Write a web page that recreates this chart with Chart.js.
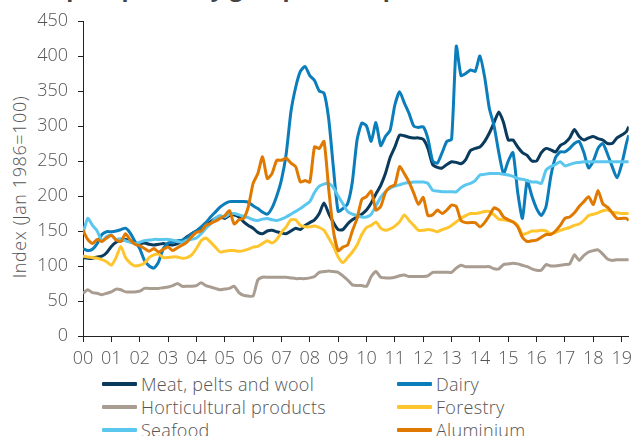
<!DOCTYPE html>
<html>
<head>
<meta charset="utf-8">
<script src="https://cdn.jsdelivr.net/npm/chart.js@4.4.0/dist/chart.umd.min.js"></script>
<style>
  body { margin: 0; width: 638px; height: 436px; overflow: hidden; background: #fff; position: relative; font-family: "Open Sans", Lato, sans-serif; font-weight: 300; color: #555; }
  #title { position: absolute; left: 40px; top: -29px; font-size: 23px; font-weight: bold; color: #444; white-space: nowrap; }
  #wrap { position: absolute; left: 0; top: 0; width: 638px; height: 372px; }
  #ytitle { position: absolute; left: 19px; top: 187px; transform: translate(-50%, -50%) rotate(-90deg); font-size: 18px; letter-spacing: 0.6px; white-space: nowrap; color: #555; }
  .item { position: absolute; height: 22px; display: flex; align-items: center; font-size: 18px; letter-spacing: 0.3px; color: #555; white-space: nowrap; }
  .swatch { display: inline-block; width: 35px; height: 4px; margin-right: 4px; border-radius: 1px; }
</style>
</head>
<body>
<div id="title">Export prices by group (world prices)</div>
<div id="ytitle">Index (Jan 1986=100)</div>
<div id="wrap"><canvas id="myChart" width="638" height="372"></canvas></div>
<div id="legend"></div>
<script>
// every second month from Jan 2000, last point Apr 2019
const dates = [];
for (let y = 2000; y < 2019; y++) {
  for (let m = 0; m < 12; m += 2) dates.push(y + m / 12);
}
dates.push(2019, 2019 + 2 / 12, 2019.25);

const yearTicks = ["00", "01", "02", "03", "04", "05", "06", "07", "08", "09",
  "10", "11", "12", "13", "14", "15", "16", "17", "18", "19"];

const meat = [
  112, 111, 111, 113, 114, 119,
  128, 134, 136, 138, 136, 133,
  132, 133, 131, 130, 131, 132,
  131, 130, 132, 136, 142, 146,
  150, 154, 158, 163, 168, 170,
  168, 172, 173, 170, 163, 158,
  154, 148, 146, 150, 151, 149,
  147, 146, 150, 154, 152, 158,
  162, 166, 175, 190, 175, 162,
  152, 152, 160, 166, 170, 174,
  180, 190, 203, 215, 232, 255,
  270, 287, 286, 284, 283, 283,
  281, 268, 245, 241, 240, 245,
  249, 248, 246, 252, 265, 268,
  270, 278, 290, 305, 320, 305,
  280, 280, 270, 262, 258, 250,
  250, 262, 268, 266, 263, 272,
  276, 283, 295, 285, 280, 283,
  285, 282, 280, 275, 275, 283,
  287, 292, 299
];
const dairy = [
  125, 122, 124, 132, 145, 149,
  149, 150, 152, 154, 147, 135,
  125, 108, 100, 97, 106, 125,
  133, 134, 136, 137, 140, 146,
  150, 156, 162, 170, 177, 184,
  189, 192, 192, 192, 192, 191,
  186, 182, 177, 174, 183, 200,
  223, 260, 320, 355, 378, 385,
  372, 365, 350, 347, 310, 240,
  178, 182, 189, 220, 280, 304,
  300, 278, 305, 272, 285, 294,
  330, 349, 333, 318, 300, 298,
  299, 282, 250, 247, 262, 278,
  281, 414, 372, 375, 380, 378,
  400, 370, 325, 300, 262, 232,
  250, 262, 205, 168, 222, 200,
  182, 172, 185, 228, 255, 263,
  263, 268, 275, 278, 262, 240,
  250, 268, 275, 260, 242, 226,
  245, 275, 287
];
const horticulture = [
  61, 66, 62, 61, 59, 61,
  63, 67, 66, 63, 63, 63,
  64, 68, 68, 68, 68, 69,
  70, 72, 75, 71, 71, 71,
  72, 76, 72, 70, 68, 66,
  67, 68, 71, 62, 58, 57,
  57, 80, 84, 84, 84, 84,
  84, 84, 83, 82, 82, 82,
  83, 85, 91, 92, 93, 92,
  91, 86, 80, 73, 72, 72,
  71, 85, 92, 84, 83, 83,
  84, 86, 87, 85, 85, 85,
  85, 86, 91, 91, 91, 91,
  91, 97, 101, 99, 99, 99,
  99, 99, 99, 96, 96, 102,
  103, 104, 103, 101, 99, 96,
  94, 94, 102, 100, 100, 101,
  102, 103, 116, 108, 115, 120,
  122, 123, 117, 110, 108, 109,
  109, 109, 109
];
const forestry = [
  114, 113, 112, 111, 109, 106,
  101, 112, 128, 112, 104, 100,
  101, 104, 112, 116, 117, 112,
  112, 113, 113, 111, 112, 116,
  125, 136, 140, 134, 127, 120,
  121, 122, 122, 121, 122, 124,
  127, 128, 132, 136, 133, 138,
  148, 156, 166, 166, 158, 156,
  156, 157, 155, 151, 140, 128,
  113, 105, 112, 120, 130, 145,
  155, 158, 163, 154, 151, 153,
  157, 163, 173, 165, 158, 151,
  151, 152, 151, 149, 152, 154,
  158, 163, 168, 172, 175, 175,
  176, 178, 178, 173, 167, 166,
  165, 163, 158, 145, 147, 150,
  150, 151, 150, 146, 148, 151,
  153, 155, 158, 160, 165, 172,
  174, 176, 179, 180, 177, 176,
  175, 175, 175
];
const seafood = [
  146, 168, 158, 150, 136, 142,
  144, 138, 139, 136, 134, 132,
  134, 136, 137, 138, 138, 138,
  138, 137, 135, 134, 137, 138,
  140, 146, 154, 160, 168, 172,
  170, 174, 175, 173, 171, 169,
  166, 165, 167, 168, 166, 165,
  167, 170, 174, 178, 182, 187,
  192, 205, 214, 217, 218, 212,
  200, 189, 178, 174, 172, 170,
  170, 174, 186, 198, 206, 211,
  214, 216, 218, 219, 220, 220,
  220, 218, 208, 207, 206, 206,
  206, 206, 212, 216, 218, 222,
  230, 231, 232, 232, 232, 231,
  230, 228, 225, 224, 222, 220,
  220, 218, 237, 242, 245, 249,
  243, 245, 247, 248, 249, 249,
  249, 249, 249, 249, 249, 249,
  249, 249, 249
];
const aluminium = [
  151, 138, 132, 138, 135, 140,
  144, 137, 135, 146, 137, 131,
  129, 125, 121, 125, 120, 124,
  127, 122, 126, 130, 134, 142,
  148, 150, 158, 161, 164, 168,
  172, 179, 160, 166, 168, 185,
  218, 232, 256, 225, 232, 251,
  251, 254, 247, 242, 220, 222,
  220, 270, 268, 278, 210, 150,
  122, 127, 130, 150, 168, 195,
  199, 207, 180, 185, 205, 213,
  216, 242, 232, 220, 204, 188,
  198, 172, 173, 180, 175, 180,
  187, 185, 165, 162, 162, 162,
  156, 162, 172, 183, 180, 170,
  166, 163, 156, 141, 135, 136,
  137, 141, 145, 145, 150, 158,
  168, 170, 176, 185, 192, 199,
  188, 208, 189, 184, 176, 168,
  168, 168, 165
];

const seriesNames = ["Meat, pelts and wool", "Dairy", "Horticultural products", "Forestry", "Seafood", "Aluminium"];
const seriesValues = [meat, dairy, horticulture, forestry, seafood, aluminium];
const seriesColors = ["#0a3a5c", "#0b7dbb", "#a99d92", "#fec52e", "#5cc7ee", "#e07900"];
const drawOrder = [6, 5, 4, 3, 2, 1];

const datasets = seriesNames.map((name, i) => ({
  label: name,
  data: seriesValues[i].map((v, k) => ({ x: dates[k], y: v })),
  borderColor: seriesColors[i],
  backgroundColor: seriesColors[i],
  borderWidth: 3,
  pointRadius: 0,
  tension: 0.2,
  fill: false,
  order: drawOrder[i],
}));

const tickFont = { family: "'Open Sans', Lato, sans-serif", size: 18, weight: 300 };

const ctx = document.getElementById("myChart").getContext("2d");
const myChart = new Chart(ctx, {
  type: "line",
  data: { datasets: datasets },
  options: {
    responsive: false,
    animation: false,
    layout: { padding: { top: 21, right: 4.6, left: 0, bottom: 0 } },
    plugins: { legend: { display: false }, tooltip: { enabled: false } },
    scales: {
      x: {
        type: "linear",
        min: 2000,
        max: 2019.25,
        afterFit: (scale) => { scale.height = 36; },
        afterBuildTicks: (scale) => {
          scale.ticks = yearTicks.map((t, i) => ({ value: 2000 + i }));
        },
        ticks: {
          autoSkip: false,
          maxRotation: 0,
          padding: 6,
          color: "#555",
          font: tickFont,
          callback: (v) => yearTicks[Math.round(v) - 2000],
        },
        grid: { drawOnChartArea: false, drawTicks: true, tickLength: 6, color: "#222" },
        border: { display: true, color: "#222", width: 1 },
      },
      y: {
        min: 0,
        max: 450,
        afterFit: (scale) => { scale.width = 83; },
        ticks: { stepSize: 50, padding: 10, color: "#555", font: tickFont },
        grid: { drawOnChartArea: false, drawTicks: true, tickLength: 5, color: "#222" },
        border: { display: true, color: "#222", width: 1 },
      },
    },
  },
});

// legend in two columns, built from the datasets
const legend = document.getElementById("legend");
datasets.forEach((ds, i) => {
  const item = document.createElement("div");
  item.className = "item";
  item.style.left = (i % 2 === 0 ? 102 : 397) + "px";
  item.style.top = (384 + Math.floor(i / 2) * 23 - 11) + "px";
  item.innerHTML = `<span class="swatch" style="background:${ds.borderColor}"></span>${ds.label}`;
  legend.appendChild(item);
});
</script>
</body>
</html>
